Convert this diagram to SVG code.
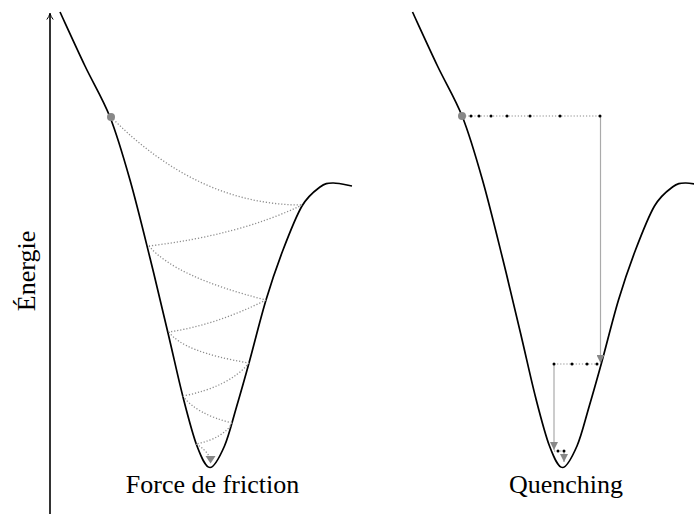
<svg xmlns="http://www.w3.org/2000/svg" width="694" height="514" viewBox="0 0 694 514">
<style>
.curve{fill:none;stroke:#000;stroke-width:1.7;stroke-linejoin:round}
.dot{fill:none;stroke:#8c8c8c;stroke-width:1.3;stroke-dasharray:1.2 1.9}
.hdot{fill:none;stroke:#8c8c8c;stroke-width:1.2;stroke-dasharray:1.2 1.9}
.drop{fill:none;stroke:#aaa;stroke-width:1.2}
.bd{fill:#000}
.ball{fill:#888}
.lbl{font-family:"Liberation Serif","Times New Roman",serif;font-size:26px;fill:#000}
</style>
<defs>
<path id="well" d="M60,12 C64.17,21 76.67,48.5 85,66 C93.33,83.5 102.5,98 110,117 C117.5,136 123.33,156.5 130,180 C136.67,203.5 143.67,232.5 150,258 C156.33,283.5 162.5,309.83 168,333 C173.5,356.17 178.17,378.17 183,397 C187.83,415.83 192.5,434.25 197,446 C201.5,457.75 205.42,467.5 210,467.5 C214.58,467.5 220.08,456.08 224.5,446 C228.92,435.92 232.42,420.83 236.5,407 C240.58,393.17 244.08,380.83 249,363 C253.92,345.17 260.33,318.83 266,300 C271.67,281.17 277,265.67 283,250 C289,234.33 295.83,216.5 302,206 C308.17,195.5 314.83,190.83 320,187 C325.17,183.17 327.67,183.17 333,183 C338.33,182.83 348.83,185.5 352,186"/>
<marker id="ah" viewBox="0 0 8 8" refX="8" refY="4" markerWidth="8" markerHeight="8" markerUnits="userSpaceOnUse" orient="auto">
<path d="M0,0 L8,4 L0,8 z" fill="#888"/>
</marker>
</defs>
<g id="axis">
<line x1="50" y1="514" x2="50" y2="14" stroke="#000" stroke-width="1.6"/>
<path d="M46.8,19.5 Q49.3,16.5 50,13 Q50.7,16.5 53.2,19.5" fill="none" stroke="#000" stroke-width="1"/>
<text class="lbl" transform="translate(35,271) rotate(-90)" text-anchor="middle">Énergie</text>
</g>
<g id="friction">
<use href="#well" class="curve"/>
<g id="friction-path">
<path class="dot" d="M111,117 Q198,205 302,205"/>
<path class="dot" d="M302,205 Q240,235 149,246"/>
<path class="dot" d="M149,246 Q175,277 266,300"/>
<path class="dot" d="M266,300 Q216,325 169,332"/>
<path class="dot" d="M169,332 Q183,352 249,363"/>
<path class="dot" d="M249,363 Q229,387 183,396"/>
<path class="dot" d="M183,396 Q196,414 232,423"/>
<path class="dot" d="M232,423 Q224,438 196,444"/>
<path class="dot" d="M196,444 Q205,449 209,456"/>
<polygon points="205.5,456 215.5,456 210.6,463.5" fill="#888"/>
</g>
<circle class="ball" cx="111" cy="117" r="4"/>
<text class="lbl" x="212.5" y="493" text-anchor="middle">Force de friction</text>
</g>
<g id="quenching">
<use href="#well" class="curve" transform="translate(352.5,0)"/>
<g id="quench-path">
<line class="hdot" x1="462" y1="116" x2="600" y2="116"/>
<line class="drop" x1="600.5" y1="116" x2="600.5" y2="363" marker-end="url(#ah)"/>
<line class="hdot" x1="554" y1="364" x2="598" y2="364"/>
<line class="drop" x1="554" y1="364" x2="554" y2="450" marker-end="url(#ah)"/>
<line class="hdot" x1="554" y1="451" x2="564" y2="451"/>
<line class="drop" x1="564" y1="451" x2="564" y2="462" marker-end="url(#ah)"/>
<circle class="bd" cx="471" cy="116" r="1.5"/>
<circle class="bd" cx="479" cy="116" r="1.5"/>
<circle class="bd" cx="491" cy="116" r="1.5"/>
<circle class="bd" cx="507" cy="116" r="1.5"/>
<circle class="bd" cx="530" cy="116" r="1.5"/>
<circle class="bd" cx="560" cy="116" r="1.5"/>
<circle class="bd" cx="600" cy="116" r="1.5"/>
<circle class="bd" cx="554" cy="364" r="1.5"/>
<circle class="bd" cx="572" cy="364" r="1.5"/>
<circle class="bd" cx="587" cy="364" r="1.5"/>
<circle class="bd" cx="597" cy="364" r="1.5"/>
<circle class="bd" cx="558" cy="451" r="1.5"/>
<circle class="bd" cx="564" cy="451" r="1.5"/>
</g>
<circle class="ball" cx="462" cy="116" r="4"/>
<text class="lbl" x="566" y="493" text-anchor="middle">Quenching</text>
</g>
</svg>
